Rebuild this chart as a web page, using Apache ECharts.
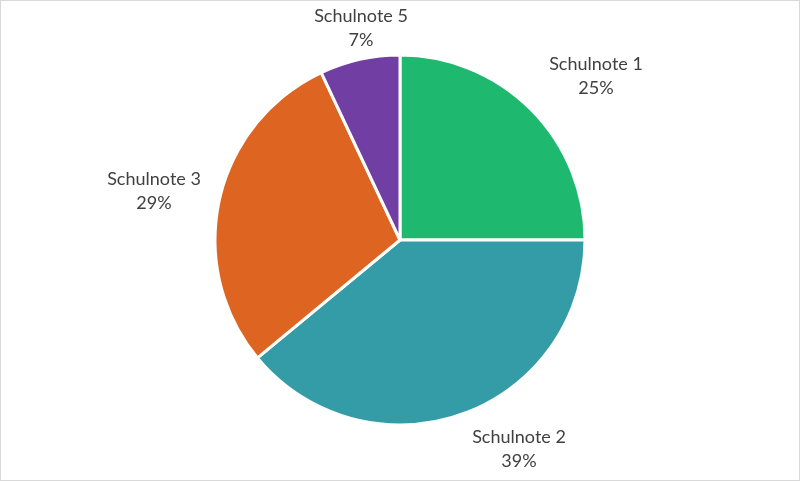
<!DOCTYPE html>
<html>
<head>
<meta charset="utf-8">
<script src="https://cdn.jsdelivr.net/npm/echarts@6/dist/echarts.min.js"></script>
<style>
html,body{margin:0;padding:0;background:#fff;}
#c{width:800px;height:481px;box-sizing:border-box;border:1px solid #d9d9d9;}
</style>
</head>
<body>
<div id="c"></div>
<script>
const categories = ['Schulnote 1', 'Schulnote 2', 'Schulnote 3', 'Schulnote 5'];
const values = [25, 39, 29, 7];
const colors = ['#1eb96f', '#339ca6', '#de6421', '#713fa3'];
// label centre positions (layout only)
const labelPos = [[596, 76], [519, 449], [154, 191], [361, 28]];

const chart = echarts.init(document.getElementById('c'), null, {renderer: 'canvas'});
chart.setOption({
  animation: false,
  series: [{
    type: 'pie',
    center: [399, 239],
    radius: 185,
    startAngle: 90,
    clockwise: true,
    data: categories.map((n, i) => ({name: n, value: values[i], itemStyle: {color: colors[i]}})),
    itemStyle: {borderColor: '#fff', borderWidth: 3},
    label: {
      show: true,
      position: 'outside',
      formatter: p => p.name + '\n' + Math.round(p.percent) + '%',
      color: '#404040',
      fontSize: 18,
      fontFamily: 'Lato',
      lineHeight: 24,
      align: 'center'
    },
    labelLine: {show: false},
    labelLayout: function (params) {
      const p = labelPos[params.dataIndex];
      return {x: p[0] - 1, y: p[1] - 1, align: 'center', verticalAlign: 'middle'};
    },
    emphasis: {disabled: true}
  }]
});
</script>
</body>
</html>
